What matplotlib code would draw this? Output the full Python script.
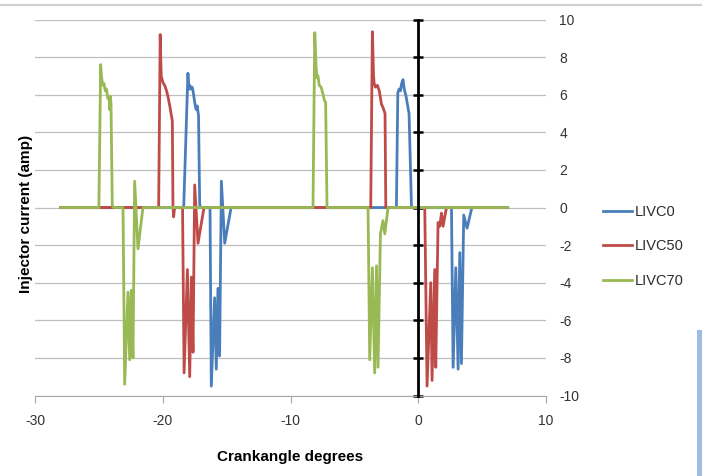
import matplotlib
matplotlib.use('Agg')
from matplotlib import pyplot as plt
from matplotlib.lines import Line2D
from matplotlib.patches import Rectangle

plt.rcParams['font.family'] = ['Liberation Sans', 'DejaVu Sans']
plt.rcParams['axes.unicode_minus'] = False

# crank angle (deg) / injector current (amp)
livc0_x = [-28, -18.36, -18.03, -17.95, -17.88, -17.8, -17.7, -17.63, -17.5, -17.42,
           -17.37, -17.3, -17.2, -17.11, -17.05,
           -16.3, -16.2, -15.94, -15.81, -15.68, -15.55, -15.41, -15.15, -14.65,
           -1.71, -1.6, -1.5, -1.4, -1.3, -1.19, -1.1, -0.95, -0.8, -0.72, -0.53,
           2.6, 2.73, 2.94, 3.12, 3.25, 3.38, 3.56, 3.82, 4.2, 7]
livc0_y = [0, 0, 7.14, 6.3, 6.5, 6.3, 6.4, 6.2, 5.6, 5.3,
           5.2, 5.4, 4.9, 0.2, 0,
           0, -9.5, -4.8, -8.6, -4.3, -7.9, 1.4, -1.9, 0,
           0, 6.1, 6.3, 6.2, 6.6, 6.8, 6.3, 5.9, 5.3, 5.0, 0,
           0, -8.5, -3.2, -8.6, -2.4, -8.3, -0.4, -1.1, 0, 0]

livc50_x = [-28, -20.32, -20.2, -20.12, -20.05, -19.95, -19.85, -19.7, -19.59, -19.45,
            -19.3, -19.25, -19.2, -19.15, -19.07,
            -18.45, -18.33, -18.07, -17.89, -17.76, -17.63, -17.5, -17.24, -16.77,
            -3.72, -3.59, -3.5, -3.45, -3.35, -3.2, -3.05, -2.88, -2.75, -2.6, -2.54,
            0.51, 0.69, 0.98, 1.08, 1.29, 1.37, 1.55, 1.68, 1.82, 1.94, 2.21, 7]
livc50_y = [0, 0, 9.2, 7.0, 6.8, 6.6, 6.5, 6.2, 5.9, 5.4,
            4.8, 4.6, 0.1, -0.5, 0,
            0, -8.8, -3.3, -9.0, -3.7, -7.7, 1.2, -1.9, 0,
            0, 9.35, 7.0, 6.6, 6.4, 6.5, 6.2, 5.5, 5.3, 5.0, 0,
            0, -9.5, -4.0, -9.2, -3.3, -8.5, -0.8, -1.0, -0.3, -1.0, 0, 0]

livc70_x = [-28, -25.0, -24.86, -24.8, -24.7, -24.6, -24.5, -24.4, -24.3, -24.2,
            -24.15, -24.1, -24.05, -23.95, -23.85,
            -23.11, -22.98, -22.72, -22.59, -22.46, -22.33, -22.2, -21.94, -21.55,
            -8.24, -8.1, -8.0, -7.92, -7.85, -7.75, -7.6, -7.45, -7.35, -7.25, -7.14,
            -3.93, -3.8, -3.59, -3.41, -3.27, -3.15, -2.96, -2.76, -2.62, -2.36, 7]
livc70_y = [0, 0, 7.6, 7.0, 6.5, 6.6, 6.2, 6.3, 5.8, 5.9,
            5.2, 5.9, 5.5, 0.1, 0,
            0, -9.4, -4.5, -8.1, -4.4, -8.0, 1.4, -2.2, 0,
            0, 9.3, 7.5, 6.9, 7.0, 6.5, 6.4, 6.0, 5.7, 5.6, 0,
            0, -8.1, -3.2, -8.8, -3.1, -8.5, -1.4, -0.7, -1.4, 0, 0]

series_names = ['LIVC0', 'LIVC50', 'LIVC70']
series_colors = ['#4A7EBB', '#BE4B48', '#98B954']
x_ticks = [-30, -20, -10, 0, 10]
y_ticks = [-10, -8, -6, -4, -2, 0, 2, 4, 6, 8, 10]

fig = plt.figure(figsize=(7.02, 4.76), dpi=100)
ax = fig.add_axes([35 / 702, 1 - 395.5 / 476, 511 / 702, 376 / 476])

for xs, ys, name, col in zip([livc0_x, livc50_x, livc70_x],
                             [livc0_y, livc50_y, livc70_y],
                             series_names, series_colors):
    ax.plot(xs, ys, color=col, lw=2.0, label=name, solid_joinstyle='round')

ax.set_xlim(-30, 10)
ax.set_ylim(-10, 10)
ax.set_xticks(x_ticks)
ax.set_yticks(y_ticks)
ax.yaxis.grid(True, color='#BFBFBF', lw=0.9)
ax.set_axisbelow(True)

ax.spines['top'].set_visible(False)
ax.spines['right'].set_visible(False)
ax.spines['left'].set_position(('data', 0))
ax.spines['left'].set_color('black')
ax.spines['left'].set_linewidth(2)
ax.spines['left'].set_zorder(5)
ax.spines['bottom'].set_color('#A6A6A6')

ax.tick_params(axis='y', direction='inout', length=7, width=1.8, color='black',
               left=True, right=False, labelleft=False, labelright=True,
               pad=6, labelsize=10, labelcolor='#333333')
ax.tick_params(axis='x', direction='out', length=5, color='#A6A6A6',
               pad=8, labelsize=10, labelcolor='#333333')

ax.set_xlabel('Crankangle degrees', fontsize=11, fontweight='bold', labelpad=16)
fig.text(26 / 702, 1 - 214 / 476, 'Injector current (amp)', rotation=90,
         fontsize=11, fontweight='bold', ha='center', va='center')

ax.legend(loc='upper left', bbox_to_anchor=(603 / 702, 1 - 205 / 476),
          bbox_transform=fig.transFigure, frameon=False, fontsize=10.5,
          handlelength=2.0, handletextpad=0.15, labelspacing=1.4,
          borderpad=0, borderaxespad=0, labelcolor='#2B2B2B')

fig.add_artist(Line2D([0, 1], [1 - 5 / 476] * 2, transform=fig.transFigure,
                      color='#D0D0D0', lw=1.5))
fig.add_artist(Rectangle((697 / 702, 0), 5 / 702, 146 / 476, transform=fig.transFigure,
                         color='#9DBBE3', lw=0))

fig.savefig('out.png', dpi=100)
